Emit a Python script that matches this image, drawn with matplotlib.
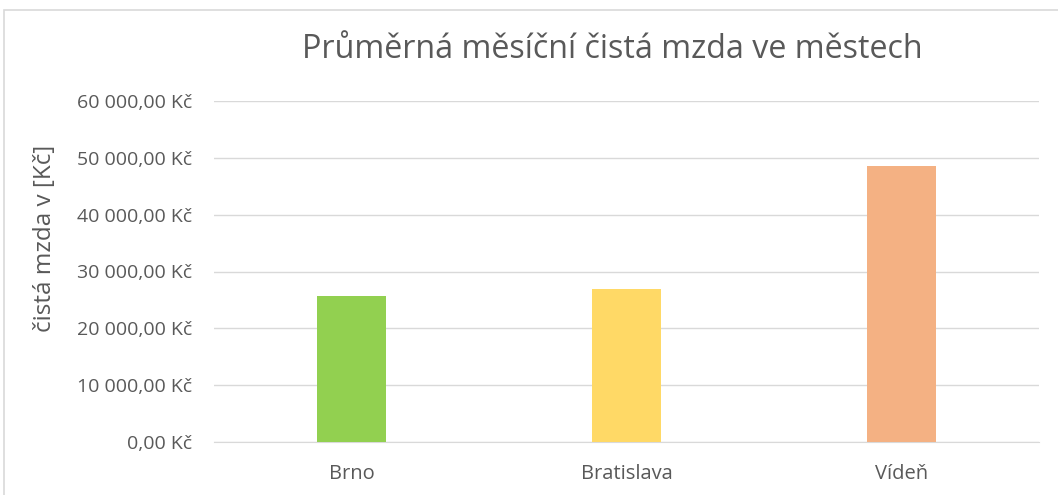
import matplotlib
matplotlib.use("Agg")
import matplotlib.pyplot as plt
from matplotlib.patches import Rectangle
from matplotlib.ticker import FuncFormatter

cities = ["Brno", "Bratislava", "Vídeň"]
wages = [25700, 26900, 48600]
colors = ["#92D050", "#FFD966", "#F4B183"]
yticks = [0, 10000, 20000, 30000, 40000, 50000, 60000]

txt = "#595959"
plt.rcParams['font.family'] = ['Open Sans', 'DejaVu Sans']

fig = plt.figure(figsize=(10.58, 4.95), dpi=100)
ax = fig.add_axes([214/1058, 1 - 442/495, (1039-214)/1058, (442-101)/495])

x = range(len(cities))
ax.bar(x, wages, width=0.25, color=colors, zorder=3)

ax.set_xlim(-0.5, 2.5)
ax.set_ylim(0, 60000)
ax.set_yticks(yticks)

def kc(v, pos):
    s = f"{v:,.2f}".replace(",", " ").replace(".", ",")
    return s + " Kč"

ax.yaxis.set_major_formatter(FuncFormatter(kc))
ax.set_xticks(list(x))
ax.set_xticklabels(cities)
ax.grid(axis="y", color="#D9D9D9", linewidth=1, zorder=0)
for sp in ["top", "right", "left"]:
    ax.spines[sp].set_visible(False)
ax.spines["bottom"].set_color("#D9D9D9")
ax.tick_params(axis="both", length=0, colors=txt)
ax.tick_params(axis="y", pad=16, labelsize=14)
ax.tick_params(axis="x", pad=16, labelsize=14.5)

ax.set_ylabel("čistá mzda v [Kč]", fontsize=17.5, color=txt)
ax.yaxis.set_label_coords(-0.19, 0.598)
fig.text(612/1058, 1 - 50/495, "Průměrná měsíční čistá mzda ve městech",
         ha="center", va="center", fontsize=23.2, color=txt)

fig.patches.append(Rectangle((4/1058, -0.1), 1.2, 1 - 10/495 + 0.1,
                             transform=fig.transFigure, fill=False,
                             edgecolor="#D9D9D9", linewidth=1.2))

fig.savefig("out.png", dpi=100, facecolor="white")
